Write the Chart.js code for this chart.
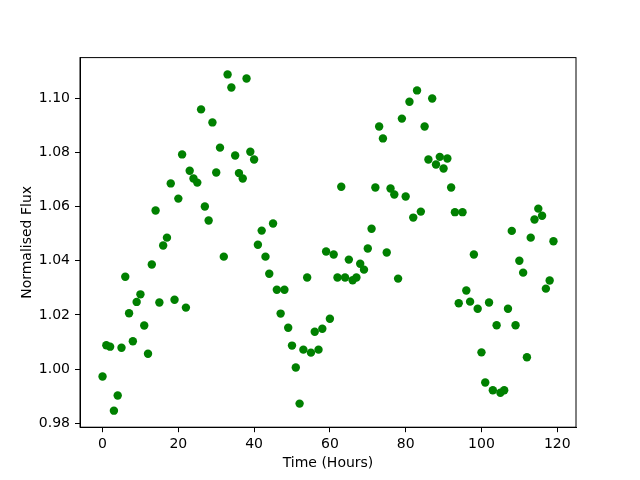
<!DOCTYPE html>
<html>
<head>
<meta charset="utf-8">
<title>Normalised Flux</title>
<script src="https://cdn.jsdelivr.net/npm/chart.js@4/dist/chart.umd.min.js"></script>
<style>
  html, body { margin: 0; padding: 0; background: #fff; }
  canvas { display: block; }
</style>
</head>
<body>
<canvas id="chartFlux" width="640" height="480"></canvas>
<script>
// time of each reading (hours)
const hours = [
  0, 1, 2, 3, 4, 5, 6, 7, 8, 9, 10, 11, 12, 13, 14, 15, 16, 17, 18, 19,
  20, 21, 22, 23, 24, 25, 26, 27, 28, 29, 30, 31, 32, 33, 34, 35, 36, 37, 38, 39,
  40, 41, 42, 43, 44, 45, 46, 47, 48, 49, 50, 51, 52, 53, 54, 55, 56, 57, 58, 59,
  60, 61, 62, 63, 64, 65, 66, 67, 68, 69, 70, 71, 72, 73, 74, 75, 76, 77, 78, 79,
  80, 81, 82, 83, 84, 85, 86, 87, 88, 89, 90, 91, 92, 93, 94, 95, 96, 97, 98, 99,
  100, 101, 102, 103, 104, 105, 106, 107, 108, 109, 110, 111, 112, 113, 114, 115, 116, 117, 118, 119
];

// normalised flux
const flux = [
  0.9973, 1.0088, 1.0083, 0.9847, 0.9903, 1.0079, 1.0341, 1.0206, 1.0103, 1.0248,
  1.0276, 1.0161, 1.0057, 1.0386, 1.0585, 1.0246, 1.0456, 1.0485, 1.0685, 1.0256,
  1.0629, 1.0792, 1.0227, 1.0732, 1.0703, 1.0688, 1.0958, 1.0600, 1.0548, 1.0910,
  1.0725, 1.0817, 1.0415, 1.1087, 1.1039, 1.0788, 1.0723, 1.0703, 1.1072, 1.0802,
  1.0773, 1.0459, 1.0511, 1.0415, 1.0352, 1.0537, 1.0293, 1.0205, 1.0293, 1.0153,
  1.0087, 1.0006, 0.9873, 1.0072, 1.0338, 1.0061, 1.0138, 1.0072, 1.0149, 1.0434,
  1.0186, 1.0423, 1.0338, 1.0673, 1.0338, 1.0404, 1.0328, 1.0338, 1.0389, 1.0367,
  1.0445, 1.0518, 1.0670, 1.0895, 1.0851, 1.0430, 1.0666, 1.0644, 1.0334, 1.0924,
  1.0637, 1.0986, 1.0559, 1.1028, 1.0581, 1.0895, 1.0773, 1.0998, 1.0755, 1.0783,
  1.0740, 1.0777, 1.0670, 1.0579, 1.0243, 1.0579, 1.0290, 1.0249, 1.0423, 1.0223,
  1.0062, 0.9951, 1.0246, 0.9922, 1.0162, 0.9913, 0.9922, 1.0223, 1.0510, 1.0162,
  1.0400, 1.0356, 1.0044, 1.0485, 1.0552, 1.0592, 1.0566, 1.0297, 1.0327, 1.0472
];

// tick labels on the axes
const xTicks = [0, 20, 40, 60, 80, 100, 120];
const yTicks = [0.98, 1.00, 1.02, 1.04, 1.06, 1.08, 1.10];

const pontos = hours.map((h, i) => ({ x: h, y: flux[i] }));

Chart.defaults.font.family = "'DejaVu Sans', sans-serif";
Chart.defaults.font.size = 14;
Chart.defaults.color = '#000';

// moldura completa em volta da área do gráfico
const frame = {
  id: 'frame',
  afterDraw(chart) {
    const { ctx, chartArea: a } = chart;
    ctx.save();
    ctx.strokeStyle = '#000';
    ctx.lineWidth = 1;
    ctx.strokeRect(a.left, a.top, a.right - a.left, a.bottom - a.top);
    ctx.restore();
  }
};

const eixo = {
  border: { display: true, color: '#000', width: 1 },
  grid: { display: true, drawOnChartArea: false, drawTicks: true, tickLength: 5, color: '#000' }
};

new Chart(document.getElementById('chartFlux').getContext('2d'), {
  type: 'scatter',
  data: {
    datasets: [{
      data: pontos,
      backgroundColor: '#008000',
      borderColor: '#008000',
      borderWidth: 0,
      pointRadius: 4.2,
      pointHoverRadius: 4.2
    }]
  },
  options: {
    responsive: false,
    animation: false,
    layout: { padding: { left: 0, top: 57.6, right: 64, bottom: 0 } },
    plugins: { legend: { display: false }, tooltip: { enabled: false } },
    scales: {
      x: {
        ...eixo,
        min: -5.95,
        max: 124.95,
        afterBuildTicks: s => { s.ticks = xTicks.map(v => ({ value: v })); },
        afterFit: s => { s.height = 52.8; },
        ticks: { padding: 4, maxRotation: 0, callback: v => String(v) },
        title: { display: true, text: 'Time (Hours)', padding: { top: 0, bottom: 8.6 } }
      },
      y: {
        ...eixo,
        min: 0.9786,
        max: 1.1149,
        afterBuildTicks: s => { s.ticks = yTicks.map(v => ({ value: v })); },
        afterFit: s => { s.width = 80; },
        ticks: { padding: 5, callback: v => v.toFixed(2) },
        title: { display: true, text: 'Normalised Flux', padding: { top: 18.6, bottom: 0 } }
      }
    }
  },
  plugins: [frame]
});
</script>
</body>
</html>
